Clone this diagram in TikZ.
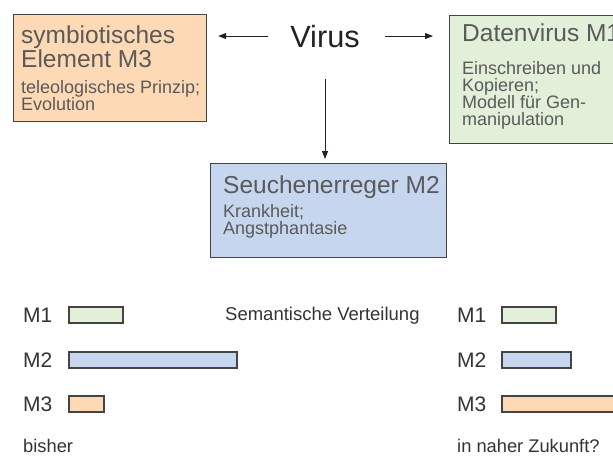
\documentclass[tikz,border=0pt]{standalone}
\usepackage{fontspec}
\setmainfont{Liberation Sans}
\usetikzlibrary{arrows.meta, calc, positioning}
\definecolor{ink}{HTML}{222222}
\definecolor{muted}{HTML}{5A5A5A}
\definecolor{label}{HTML}{333333}
\definecolor{frame}{HTML}{444444}
\definecolor{peach}{HTML}{FDD9B6}
\definecolor{mint}{HTML}{E2EFD9}
\definecolor{sky}{HTML}{C6D6EE}

\begin{document}
\begin{tikzpicture}[
    x=1pt, y=-1pt,
    conn/.style={
      draw=ink,
      line width=1pt,
      -{Triangle[length=8pt,width=6pt]},
    },
    card/.style={
      draw=frame,
      fill=#1,
      line width=1.2pt,
      anchor=north west,
      inner sep=0pt,
    },
    title/.style={
      anchor=base west,
      inner sep=0pt,
      align=left,
      text=muted,
      font=\fontsize{24.5}{24}\selectfont,
    },
    note/.style={
      anchor=base west,
      inner sep=0pt,
      align=left,
      text=muted,
      font=\fontsize{18}{17}\selectfont,
    },
    tag/.style={
      anchor=base west,
      inner sep=0pt,
      text=label,
      font=\fontsize{21}{21}\selectfont,
    },
    bar/.style={
      draw=frame,
      fill=#1,
      line width=1.1pt,
    },
  ]

  \clip (0,0) rectangle (613,456);

  % Meaning boxes (text placed at the baseline of its last line)
  \node[card=peach, minimum width=193pt, minimum height=107pt] (m3) at (13,14) {};
  \node[card=mint, minimum width=200pt, minimum height=128pt] (m1) at (449,15) {};
  \node[card=sky, minimum width=236pt, minimum height=94pt] (m2) at (210,163) {};

  \node[title] (m3title) at ($(m3.north west)+(8,53)$) {symbiotisches\\Element M3};
  \node[note] (m3note) at ($(m3.north west)+(8,96)$) {teleologisches Prinzip;\\Evolution};

  \node[title] (m1title) at ($(m1.north west)+(13,26)$) {Datenvirus M1};
  \node[note] (m1note) at ($(m1.north west)+(13,110)$) {Einschreiben und\\Kopieren;\\Modell f\"ur Gen-\\manipulation};

  \node[title] (m2title) at ($(m2.north west)+(13,30)$) {Seuchenerreger M2};
  \node[note] (m2note) at ($(m2.north west)+(13,71)$) {Krankheit;\\Angstphantasie};

  % Centre word and arrows
  \node[inner sep=0pt, anchor=base, text=ink, font=\fontsize{30.7}{31}\selectfont] (virus) at (325,47) {Virus};

  \draw[conn, shorten <=22pt, shorten >=11pt] (virus.west) -- (virus.west -| m3.east);
  \draw[conn, shorten <=25pt, shorten >=16pt] (virus.east) -- (virus.east -| m1.west);
  \draw[conn, shorten <=31pt, shorten >=4pt] (virus.south) -- (virus.south |- m2.north);

  % Semantic distribution
  \node[note, text=label, font=\fontsize{18.5}{18}\selectfont] (caption) at (225,320) {Semantische Verteilung};

  \foreach \name/\len/\y/\col in {1/54/307/mint, 2/168/352/sky, 3/35/396/peach} {
    \node[tag] (now\name) at (23,\y+15.5) {M\name};
    \draw[bar=\col] (69,\y) rectangle ++(\len,16);
  }
  \foreach \name/\len/\y/\col in {1/54/307/mint, 2/69/352/sky, 3/140/396/peach} {
    \node[tag] (later\name) at (457,\y+15.5) {M\name};
    \draw[bar=\col] (502,\y) rectangle ++(\len,16);
  }

  \node[note, text=label, font=\fontsize{18.3}{18}\selectfont] (before) at (23,452) {bisher};
  \node[note, text=label, font=\fontsize{18.3}{18}\selectfont] (future) at (457,452) {in naher Zukunft?};

\end{tikzpicture}
\end{document}
